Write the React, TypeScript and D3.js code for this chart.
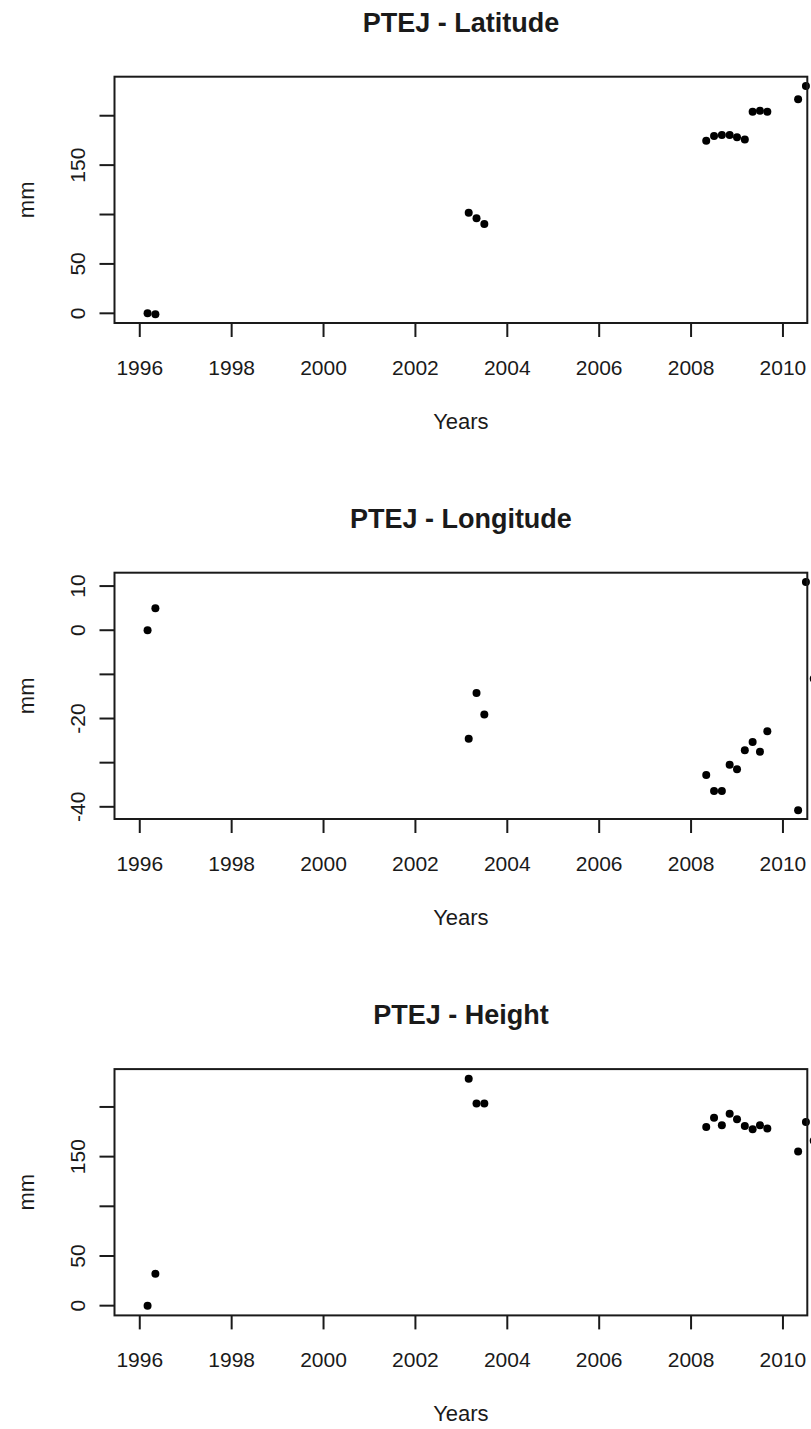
import React from "react";
import * as d3 from "d3";

const years = [1996.17, 1996.34, 2003.16, 2003.33, 2003.5, 2008.33, 2008.5, 2008.67, 2008.84, 2009.0, 2009.17, 2009.34, 2009.5, 2009.66, 2010.33, 2010.5, 2010.67];
const latitude = [0, -1, 101.8, 96.1, 90.4, 174.7, 179.5, 180.5, 180.5, 178.1, 176, 204, 205, 204, 216.6, 230];
const longitude = [0, 5, -24.6, -14.2, -19.1, -32.8, -36.4, -36.4, -30.5, -31.5, -27.2, -25.3, -27.5, -22.9, -40.8, 10.9, -11];
const height = [0, 32, 228.5, 203.4, 203.4, 179.8, 189.2, 181.5, 193.2, 187.5, 180.8, 177.5, 181.5, 178.2, 155.1, 184.8, 166];

const xDomain = [1995.45, 2010.53];
const xTicks = [1996, 1998, 2000, 2002, 2004, 2006, 2008, 2010];

const latDomain = [-9.8, 239.5];
const latTicks = [0, 50, 100, 150, 200];
const latLabels = ["0", "50", "", "150", ""];

const lonDomain = [-42.76, 13.03];
const lonTicks = [-40, -30, -20, -10, 0, 10];
const lonLabels = ["-40", "", "-20", "", "0", "10"];

const hgtDomain = [-9.8, 238.1];
const hgtTicks = [0, 50, 100, 150, 200];
const hgtLabels = ["0", "50", "", "150", ""];

const titles = ["PTEJ - Latitude", "PTEJ - Longitude", "PTEJ - Height"];

const W = 811;
const H = 1429;
const FONT = "'Liberation Sans', Arial, Helvetica, sans-serif";
const INK = "#1a1a1a";

const box = { left: 114.5, right: 807.3, top: 76.7, bottom: 323 };

function Panel({ offset, title, values, domain, ticks, labels }: any) {
  const x = d3.scaleLinear().domain(xDomain).range([box.left, box.right]);
  const y = d3.scaleLinear().domain(domain).range([box.bottom, box.top]);
  const cx = (box.left + box.right) / 2;
  const cy = (box.top + box.bottom) / 2;
  return (
    <g transform={`translate(0,${offset})`}>
      <text x={cx} y={32} textAnchor="middle" fontFamily={FONT} fontWeight="bold" fontSize={27} fill={INK}>
        {title}
      </text>
      {values.map((v: number, i: number) => (
        <circle key={i} cx={x(years[i])} cy={y(v)} r={4} fill="#000" />
      ))}
      <rect x={box.left} y={box.top} width={box.right - box.left} height={box.bottom - box.top} fill="none" stroke={INK} strokeWidth={2} />
      {xTicks.map((t) => (
        <g key={t}>
          <line x1={x(t)} x2={x(t)} y1={box.bottom} y2={box.bottom + 14} stroke={INK} strokeWidth={2} />
          <text x={x(t)} y={375} textAnchor="middle" fontFamily={FONT} fontSize={21} fill={INK}>
            {t}
          </text>
        </g>
      ))}
      {ticks.map((t: number, i: number) => (
        <g key={t}>
          <line x1={box.left - 15} x2={box.left} y1={y(t)} y2={y(t)} stroke={INK} strokeWidth={2} />
          {labels[i] && (
            <text transform={`translate(85,${y(t)}) rotate(-90)`} textAnchor="middle" fontFamily={FONT} fontSize={21} fill={INK}>
              {labels[i]}
            </text>
          )}
        </g>
      ))}
      <text x={cx} y={429} textAnchor="middle" fontFamily={FONT} fontSize={22} fill={INK}>
        Years
      </text>
      <text transform={`translate(34,${cy}) rotate(-90)`} textAnchor="middle" fontFamily={FONT} fontSize={22} fill={INK}>
        mm
      </text>
    </g>
  );
}

export default function App() {
  return (
    <div style={{ position: "absolute", left: 0, top: 0 }}>
      <svg width={W} height={H} style={{ display: "block", background: "#fff" }}>
        <rect width={W} height={H} fill="#fff" />
        <Panel offset={0} title={titles[0]} values={latitude} domain={latDomain} ticks={latTicks} labels={latLabels} />
        <Panel offset={496} title={titles[1]} values={longitude} domain={lonDomain} ticks={lonTicks} labels={lonLabels} />
        <Panel offset={992.4} title={titles[2]} values={height} domain={hgtDomain} ticks={hgtTicks} labels={hgtLabels} />
      </svg>
    </div>
  );
}
